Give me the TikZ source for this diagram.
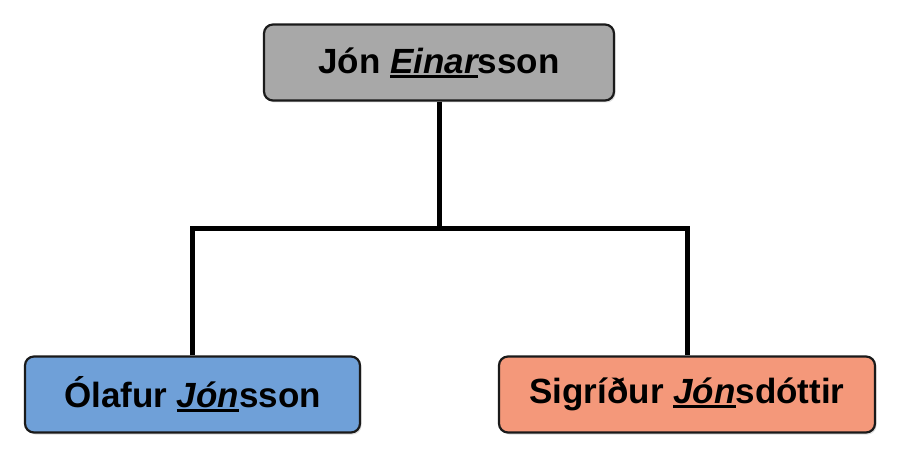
\documentclass[tikz,border=0pt]{standalone}
\usepackage{fontspec}
\setmainfont{Liberation Sans}
\usetikzlibrary{shadows}
\definecolor{boxgray}{HTML}{A8A8A8}
\definecolor{boxblue}{HTML}{6FA0D8}
\definecolor{boxsalmon}{HTML}{F4987A}
\definecolor{edgecol}{HTML}{1A1A1A}
\newcommand\myul[1]{\setbox0\hbox{#1}\rlap{\rule[-4.5pt]{\wd0}{3pt}}\box0}
\tikzset{
  person/.style={draw=edgecol, line width=2.2pt, rounded corners=9pt,
    minimum height=76pt, inner sep=0pt,
    font=\fontsize{35}{40}\selectfont\bfseries,
    drop shadow={opacity=0.25, shadow xshift=1.5pt, shadow yshift=-2pt}},
  link/.style={line width=5pt, draw=black}
}
\begin{document}
\begin{tikzpicture}[x=1pt,y=1pt]
\useasboundingbox (0,0) rectangle (900,456);
\node[person, fill=boxgray, minimum width=350pt] (father) at (439,393.5) {Jón \myul{\itshape Einar}sson};
\node[person, fill=boxblue, minimum width=335pt] (son) at (192.5,61.5) {Ólafur \myul{\itshape Jón}sson};
\node[person, fill=boxsalmon, minimum width=376pt] (daughter) at (687,61.5) {Sigríður \myul{\itshape Jón}sdóttir};
\coordinate (junction) at (439,228);
\draw[link] (father.south) -- (junction);
\draw[link] (son.north) |- (junction) -| (daughter.north);
\end{tikzpicture}
\end{document}
